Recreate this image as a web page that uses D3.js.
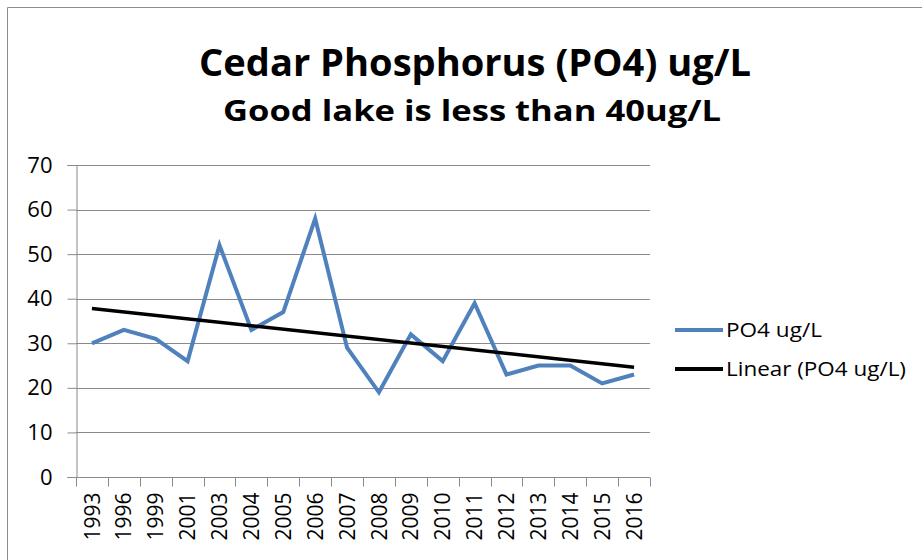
<!DOCTYPE html>
<html>
<head>
<meta charset="utf-8">
<script src="https://cdn.jsdelivr.net/npm/d3@7"></script>
<style>
  body { margin: 0; background: #fff; }
  text { font-family: "Open Sans", Lato, sans-serif; fill: #000; }
</style>
</head>
<body>
<script>
  //chart data
  var years = ["1993", "1996", "1999", "2001", "2003", "2004", "2005", "2006", "2007",
               "2008", "2009", "2010", "2011", "2012", "2013", "2014", "2015", "2016"];
  var po4 = [30, 33, 31, 26, 52, 33, 37, 58, 29, 19, 32, 26, 39, 23, 25, 25, 21, 23];
  var yTicks = [0, 10, 20, 30, 40, 50, 60, 70];
  var seriesNames = ["PO4 ug/L", "Linear (PO4 ug/L)"];

  var width = 922;
  var height = 560;
  var plot = {left: 76, right: 650, top: 165, bottom: 477};

  var svg = d3.select("body")
              .append("svg")
              .attr("width", width)
              .attr("height", height);

  //chart frame (only top and left edges show)
  svg.append("path")
     .attr("d", "M7.5,560 V7.5 H922")
     .attr("fill", "none")
     .attr("stroke", "#8c8c8c")
     .attr("stroke-width", 1);

  //titles (text squeezed/stretched to the width seen in the picture)
  svg.append("text")
     .attr("x", 475).attr("y", 76)
     .attr("text-anchor", "middle")
     .attr("textLength", 552)
     .attr("lengthAdjust", "spacingAndGlyphs")
     .style("font-size", "38px").style("font-weight", "bold")
     .text("Cedar Phosphorus (PO4) ug/L");
  svg.append("text")
     .attr("x", 472).attr("y", 121)
     .attr("text-anchor", "middle")
     .attr("textLength", 498)
     .attr("lengthAdjust", "spacingAndGlyphs")
     .style("font-size", "29px").style("font-weight", "bold")
     .text("Good lake is less than 40ug/L");

  //scales
  var x = d3.scaleBand()
            .domain(years)
            .range([plot.left, plot.right]);
  var y = d3.scaleLinear()
            .domain([0, 70])
            .range([plot.bottom, plot.top]);

  //horizontal gridlines
  svg.append("g")
     .selectAll("line")
     .data(yTicks.filter(function(d) { return d > 0; }))
     .enter().append("line")
     .attr("x1", plot.left).attr("x2", plot.right)
     .attr("y1", function(d) { return Math.round(y(d)) + 0.5; })
     .attr("y2", function(d) { return Math.round(y(d)) + 0.5; })
     .attr("stroke", "#8a8a8a");

  //value axis
  var yAxis = svg.append("g")
                 .attr("transform", "translate(" + (plot.left + 0.5) + ",0)")
                 .call(d3.axisLeft(y).tickValues(yTicks).tickSize(9).tickPadding(15));
  yAxis.selectAll("path, line").attr("stroke", "#8a8a8a");
  yAxis.selectAll("text").style("font-size", "22px").style("font-family", "'Open Sans', sans-serif");

  //category axis with ticks between categories
  var xAxis = svg.append("g")
                 .attr("transform", "translate(0," + (Math.round(plot.bottom) + 0.5) + ")");
  xAxis.append("line")
       .attr("x1", plot.left).attr("x2", plot.right)
       .attr("stroke", "#8a8a8a");
  xAxis.selectAll(".tick")
       .data(years.concat(["end"]))
       .enter().append("line")
       .attr("class", "tick")
       .attr("x1", function(d, i) { return Math.round(plot.left + i * x.bandwidth()) + 0.5; })
       .attr("x2", function(d, i) { return Math.round(plot.left + i * x.bandwidth()) + 0.5; })
       .attr("y1", 0).attr("y2", 9)
       .attr("stroke", "#8a8a8a");
  xAxis.selectAll(".label")
       .data(years)
       .enter().append("text")
       .attr("class", "label")
       .attr("transform", function(d) {
         return "translate(" + (x(d) + x.bandwidth() / 2) + ",15) rotate(-90)";
       })
       .attr("dy", "0.36em")
       .attr("text-anchor", "end")
       .style("font-size", "21px")
       .text(function(d) { return d; });

  //series line
  var line = d3.line()
               .x(function(d, i) { return x(years[i]) + x.bandwidth() / 2; })
               .y(function(d) { return y(d); });
  svg.append("path")
     .datum(po4)
     .attr("d", line)
     .attr("fill", "none")
     .attr("stroke", "#4f81bd")
     .attr("stroke-width", 4)
     .attr("stroke-linejoin", "miter");

  //least squares trendline, as the spreadsheet draws it
  var n = po4.length;
  var mx = (n - 1) / 2;
  var my = d3.mean(po4);
  var sxy = d3.sum(po4, function(d, i) { return (i - mx) * (d - my); });
  var sxx = d3.sum(po4, function(d, i) { return (i - mx) * (i - mx); });
  var slope = sxy / sxx;
  var trend = [my - slope * mx, my + slope * (n - 1 - mx)];
  svg.append("line")
     .attr("x1", x(years[0]) + x.bandwidth() / 2)
     .attr("x2", x(years[n - 1]) + x.bandwidth() / 2)
     .attr("y1", y(trend[0]))
     .attr("y2", y(trend[1]))
     .attr("stroke", "#000")
     .attr("stroke-width", 3.5);

  //legend
  var legend = svg.append("g").attr("transform", "translate(675,0)");
  var legendY = [330, 369];
  var legendColor = ["#4f81bd", "#000"];
  var legendWidth = [96, 180];
  seriesNames.forEach(function(name, i) {
    legend.append("line")
          .attr("x1", 0).attr("x2", 48)
          .attr("y1", legendY[i]).attr("y2", legendY[i])
          .attr("stroke", legendColor[i])
          .attr("stroke-width", 4);
    legend.append("text")
          .attr("x", 51).attr("y", legendY[i])
          .attr("dy", "0.36em")
          .attr("textLength", legendWidth[i])
          .attr("lengthAdjust", "spacingAndGlyphs")
          .style("font-size", "20px")
          .text(name);
  });
</script>
</body>
</html>
